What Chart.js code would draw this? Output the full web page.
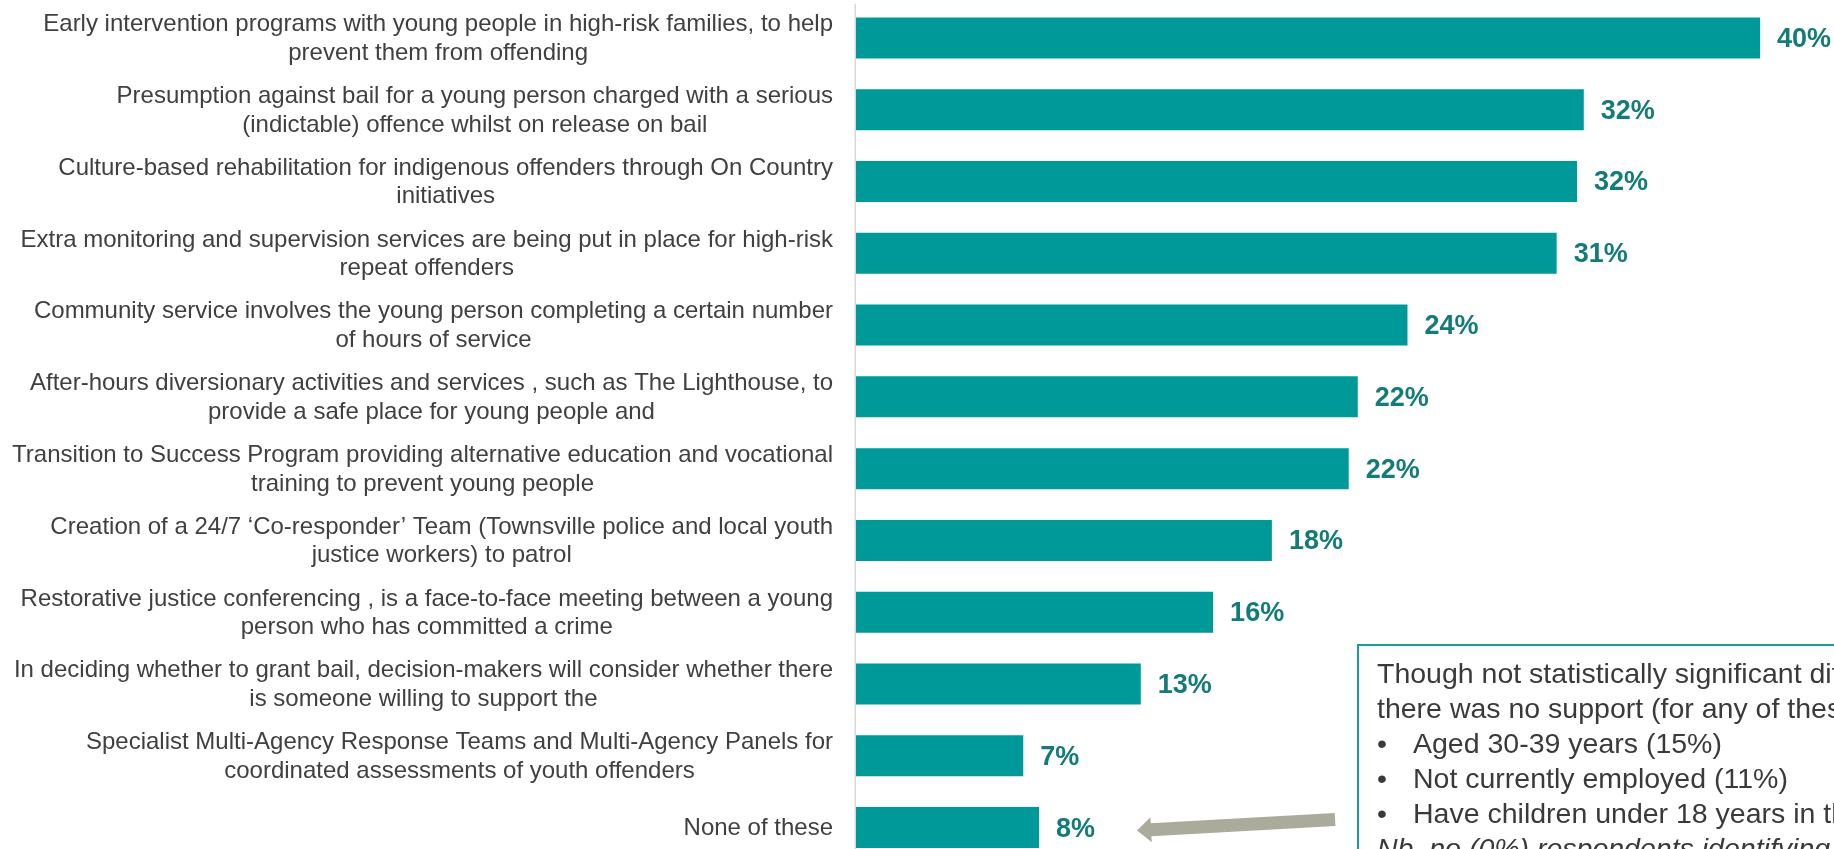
<!DOCTYPE html>
<html>
<head>
<meta charset="utf-8">
<script src="https://cdn.jsdelivr.net/npm/chart.js@4/dist/chart.umd.min.js"></script>
<style>
  html, body { margin: 0; padding: 0; background: #fff; }
  body { width: 1834px; height: 849px; overflow: hidden; position: relative; font-family: "Liberation Sans", Arial, sans-serif; }
  #chart { position: absolute; left: 0; top: 0; }
  .note {
    position: absolute; left: 1357px; top: 644px; width: 600px; height: 300px;
    border: 2px solid #1a9c9c; box-sizing: border-box;
    padding: 10px 0 0 18px; color: #3a3a3a; font-size: 28.5px; line-height: 35px;
    white-space: nowrap;
  }
  .note .b span { display: inline-block; width: 36px; }
  .note i { display: block; }
</style>
</head>
<body>
<canvas id="chart" width="1834" height="870"></canvas>
<div class="note">
  <div>Though not statistically significant differences, those more likely to say</div>
  <div>there was no support (for any of these initiatives) were:</div>
  <div class="b"><span>•</span>Aged 30-39 years (15%)</div>
  <div class="b"><span>•</span>Not currently employed (11%)</div>
  <div class="b"><span>•</span>Have children under 18 years in the household</div>
  <i>Nb. no (0%) respondents identifying</i>
</div>
<script>
const categories = [
    ['Early intervention programs with young people in high-risk families, to help', 'prevent them from offending'],
    ['Presumption against bail for a young person charged with a serious', '(indictable) offence whilst on release on bail'],
    ['Culture-based rehabilitation for indigenous offenders through On Country', 'initiatives'],
    ['Extra monitoring and supervision services are being put in place for high-risk', 'repeat offenders'],
    ['Community service involves the young person completing a certain number', 'of hours of service'],
    ['After-hours diversionary activities and services , such as The Lighthouse, to', 'provide a safe place for young people and'],
    ['Transition to Success Program providing alternative education and vocational', 'training to prevent young people'],
    ['Creation of a 24/7 \u2018Co-responder\u2019 Team (Townsville police and local youth', 'justice workers) to patrol'],
    ['Restorative justice conferencing , is a face-to-face meeting between a young', 'person who has committed a crime'],
    ['In deciding whether to grant bail, decision-makers will consider whether there', 'is someone willing to support the'],
    ['Specialist Multi-Agency Response Teams and Multi-Agency Panels for', 'coordinated assessments of youth offenders'],
    ['None of these']
];
const supportValues = [40, 32.2, 31.9, 31.0, 24.4, 22.2, 21.8, 18.4, 15.8, 12.6, 7.4, 8.1];

const TEAL = '#009999';
const LABEL_TEAL = '#137b78';

// category labels, axis line, value labels and the arrow
const drawExtras = {
    id: 'drawExtras',
    afterDraw(chart) {
        const ctx = chart.ctx;
        const area = chart.chartArea;
        const x = chart.scales.x;
        const y = chart.scales.y;
        ctx.save();

        ctx.strokeStyle = '#d9d9d9';
        ctx.lineWidth = 1.5;
        ctx.beginPath();
        ctx.moveTo(area.left - 0.75, 4);
        ctx.lineTo(area.left - 0.75, chart.height);
        ctx.stroke();

        ctx.font = '24px "Liberation Sans", Arial, sans-serif';
        ctx.fillStyle = '#404040';
        ctx.textAlign = 'center';
        ctx.textBaseline = 'middle';
        const right = area.left - 23;
        categories.forEach((lines, i) => {
            const yc = y.getPixelForValue(i) + 1;
            const maxW = Math.max(...lines.map(l => ctx.measureText(l).width));
            const cx = right - maxW / 2;
            lines.forEach((l, j) => {
                ctx.fillText(l, cx, yc + (j - (lines.length - 1) / 2) * 28.5);
            });
        });

        ctx.font = 'bold 27px "Liberation Sans", Arial, sans-serif';
        ctx.fillStyle = LABEL_TEAL;
        ctx.textAlign = 'left';
        supportValues.forEach((v, i) => {
            ctx.fillText(Math.round(v) + '%', x.getPixelForValue(v) + 17, y.getPixelForValue(i) + 1.5);
        });

        // arrow pointing at "None of these"
        const last = supportValues.length - 1;
        const tip = { x: x.getPixelForValue(supportValues[last]) + 98, y: y.getPixelForValue(last) + 3 };
        const tail = { x: tip.x + 198, y: tip.y - 11 };
        const len = Math.hypot(tail.x - tip.x, tail.y - tip.y);
        const ux = (tail.x - tip.x) / len, uy = (tail.y - tip.y) / len;
        const nx = -uy, ny = ux;
        const headLen = 14, headW = 12.5, shaftW = 6.5;
        const bx = tip.x + ux * headLen, by = tip.y + uy * headLen;
        ctx.fillStyle = '#abab9b';
        ctx.beginPath();
        ctx.moveTo(tip.x, tip.y);
        ctx.lineTo(bx + nx * headW, by + ny * headW);
        ctx.lineTo(bx + nx * shaftW, by + ny * shaftW);
        ctx.lineTo(tail.x + nx * shaftW, tail.y + ny * shaftW);
        ctx.lineTo(tail.x - nx * shaftW, tail.y - ny * shaftW);
        ctx.lineTo(bx - nx * shaftW, by - ny * shaftW);
        ctx.lineTo(bx - nx * headW, by - ny * headW);
        ctx.closePath();
        ctx.fill();

        ctx.restore();
    }
};

new Chart(document.getElementById('chart').getContext('2d'), {
    type: 'bar',
    data: {
        labels: categories,
        datasets: [{
            data: supportValues,
            backgroundColor: TEAL,
            barPercentage: 0.571,
            categoryPercentage: 1
        }]
    },
    options: {
        indexAxis: 'y',
        responsive: false,
        devicePixelRatio: 1,
        animation: false,
        layout: { padding: { left: 856, right: 0, top: 2, bottom: 6.5 } },
        scales: {
            x: { display: false, min: 0, max: 43.27 },
            y: { display: false }
        },
        plugins: {
            legend: { display: false },
            tooltip: { enabled: false }
        }
    },
    plugins: [drawExtras]
});
</script>
</body>
</html>
